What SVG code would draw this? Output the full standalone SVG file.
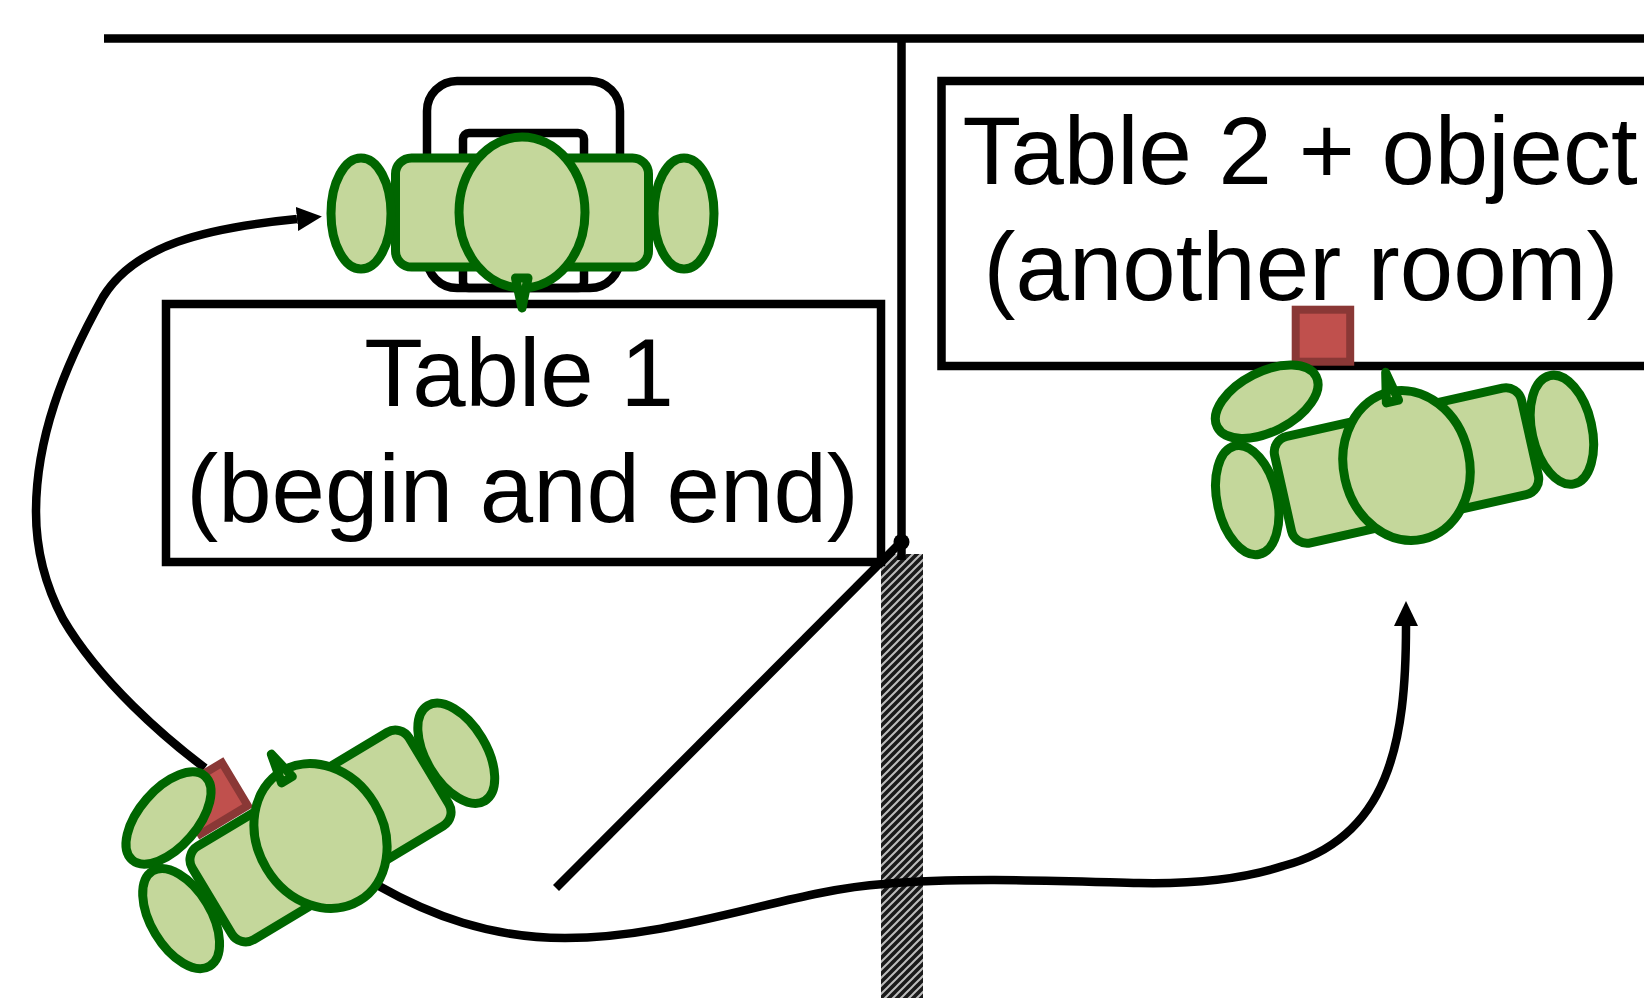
<svg xmlns="http://www.w3.org/2000/svg" width="1644" height="998" viewBox="0 0 1644 998">
<style>
.ln{fill:none;stroke:#000;stroke-width:8.5}
.box{fill:#fff;stroke:#000;stroke-width:8.5}
.g{fill:#C4D79B;stroke:#006600;stroke-width:9;stroke-linejoin:round}
.r{fill:#C0504D;stroke:#8A3836;stroke-width:8}
.t{font-family:"Liberation Sans",Arial,sans-serif;font-size:96px;fill:#000;text-anchor:middle}
</style>
<defs>
<marker id="arrow" markerUnits="userSpaceOnUse" markerWidth="26" markerHeight="26" refX="0" refY="12" orient="auto"><path d="M0,0L25,12L0,24Z" fill="#000"/></marker>
<pattern id="hatch" width="8" height="8" patternUnits="userSpaceOnUse" x="881" y="554">
<rect width="8" height="8" fill="#1a1a1a"/>
<path d="M-2,2L2,-2M0,8L8,0M6,10L10,6" stroke="#bdbdbd" stroke-width="2" fill="none"/>
</pattern>
</defs>
<g id="walls">
<path class="ln" d="M104,38.5H1644"/>
<rect x="881" y="554" width="42" height="444" fill="url(#hatch)"/>
<path class="ln" d="M901.5,38V560"/>
</g>
<g id="furniture">
<rect class="ln" x="427" y="81" width="193" height="207" rx="30"/>
<rect class="ln" x="463" y="133" width="121" height="155" rx="6"/>
</g>
<g id="table1">
<rect class="box" x="166" y="304" width="715" height="258"/>
<text class="t" x="519" y="406">Table 1</text>
<text class="t" x="522.5" y="522">(begin and end)</text>
</g>
<g id="table2">
<rect class="box" x="941.5" y="81" width="720" height="285"/>
<text class="t" x="1300" y="184">Table 2 + object</text>
<text class="t" x="1301" y="300">(another room)</text>
</g>
<g id="connectors">
<path class="ln" d="M205,768C165,738 100,682 63,619C45,585 36,550 36,512C36,440 62,370 103,297C135,245 205,228 297,219" marker-end="url(#arrow)"/>
<path class="ln" d="M377,885C430,915 490,938 565,938C680,938 790,890 884,884C960,877 1060,881 1139,883C1190,884 1240,880 1283,866C1390,838 1406,740 1406,626" marker-end="url(#arrow)"/>
<path class="ln" d="M556,888L901,542"/>
<circle cx="901.5" cy="542" r="8" fill="#000"/>
</g>
<g id="object-start"><rect class="r" x="-27.5" y="-25" width="55" height="50" transform="translate(211.3,798.3) rotate(-31)"/></g>
<g id="object-end"><rect class="r" x="1295.7" y="309.7" width="54.5" height="52"/></g>
<g id="robot-table1" transform="translate(522,212.5)">
<rect class="g" x="-126.5" y="-54.5" width="253" height="109" rx="16"/>
<ellipse class="g" cx="-161" cy="1" rx="30" ry="55.5"/>
<ellipse class="g" cx="162" cy="1" rx="30" ry="55.5"/>
<ellipse class="g" cx="0" cy="0" rx="63" ry="75.5"/>
<path class="g" d="M-6.5,65.5H6L0,95.5Z"/>
</g>
<g id="robot-start">
<g transform="translate(320.5,836) rotate(149)">
<rect class="g" x="-126.5" y="-54.5" width="253" height="109" rx="16"/>
<ellipse class="g" cx="-159" cy="1" rx="30" ry="55.5"/>
</g>
<ellipse class="g" cx="168.5" cy="818" rx="29" ry="55.5" transform="rotate(41 168.5 818)"/>
<g transform="translate(320.5,836) rotate(149)">
<ellipse class="g" cx="162" cy="1" rx="30" ry="55.5"/>
<ellipse class="g" cx="0" cy="0" rx="63" ry="75.5"/>
<path class="g" d="M-6.5,65.5H6L0,95.5Z"/>
</g>
</g>
<g id="robot-end">
<g transform="translate(1406.5,465.5) rotate(167.4)">
<rect class="g" x="-126.5" y="-54.5" width="253" height="109" rx="16"/>
<ellipse class="g" cx="-159.5" cy="1" rx="30" ry="55.5"/>
<ellipse class="g" cx="163" cy="1" rx="30" ry="55.5"/>
<ellipse class="g" cx="0" cy="0" rx="63" ry="75.5"/>
<path class="g" d="M-6.5,65.5H6L0,95.5Z"/>
</g>
<ellipse class="g" cx="1266.7" cy="401.7" rx="30" ry="55.5" transform="rotate(63 1266.7 401.7)"/>
</g>
</svg>
